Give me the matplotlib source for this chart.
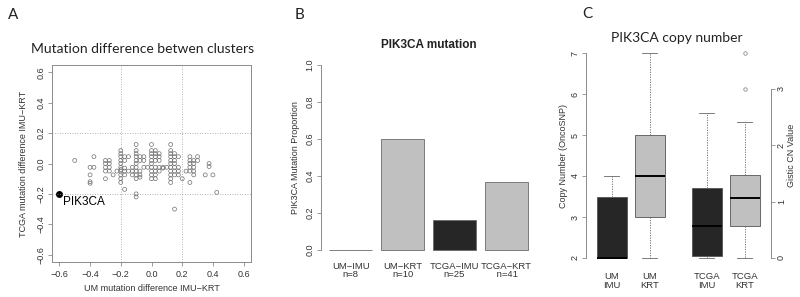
import matplotlib
matplotlib.use("Agg")
import matplotlib.pyplot as plt

plt.rcParams['font.family'] = ['Liberation Sans', 'DejaVu Sans']

# A: mutation difference per gene
um_diff = [-0.5,
           -0.4, -0.4, -0.4, -0.4,
           -0.375, -0.375,
           -0.3, -0.3, -0.3, -0.3, -0.3,
           -0.275, -0.275, -0.275, -0.275,
           -0.25, -0.225,
           -0.2, -0.2, -0.2, -0.2, -0.2, -0.2, -0.2, -0.2, -0.2, -0.2, -0.2,
           -0.175, -0.175, -0.175, -0.175, -0.175, -0.175,
           -0.15, -0.15,
           -0.125, -0.125, -0.125,
           -0.1, -0.1, -0.1, -0.1, -0.1, -0.1, -0.1, -0.1, -0.1, -0.1, -0.1, -0.1,
           -0.075, -0.075, -0.075, -0.075, -0.075,
           -0.05, -0.05, -0.05, -0.025,
           0.0, 0.0, 0.0, 0.0, 0.0, 0.0, 0.0, 0.0, 0.0, 0.0,
           0.025, 0.025, 0.025, 0.025, 0.025, 0.025, 0.025, 0.025,
           0.05, 0.05, 0.05, 0.05, 0.05,
           0.075, 0.075, 0.1,
           0.125, 0.125, 0.125, 0.125, 0.125, 0.125, 0.125, 0.125, 0.125, 0.125, 0.125,
           0.15, 0.15, 0.15, 0.15, 0.15, 0.15, 0.15, 0.15,
           0.175, 0.175, 0.175, 0.175,
           0.2, 0.225,
           0.25, 0.25, 0.25, 0.25, 0.25, 0.25,
           0.275, 0.275, 0.275, 0.275, 0.275,
           0.3, 0.3, 0.35, 0.375, 0.375, 0.4, 0.425]
tcga_diff = [0.02,
             -0.025, -0.075, -0.12, -0.13,
             0.045, -0.025,
             0.02, 0.0, -0.025, -0.05, -0.1,
             0.02, 0.0, -0.025, -0.05,
             -0.075, -0.05,
             0.085, 0.065, 0.045, 0.02, 0.0, -0.025, -0.04, -0.05, -0.075, -0.1, -0.125,
             0.045, 0.02, -0.03, -0.05, -0.075, -0.17,
             0.045, -0.05,
             -0.05, -0.025, -0.075,
             0.125, 0.085, 0.065, 0.045, 0.02, 0.0, -0.025, -0.05, -0.075, -0.1, -0.2, -0.22,
             0.045, 0.02, -0.05, -0.075, -0.09,
             0.045, 0.02, -0.025, -0.025,
             0.125, 0.085, 0.065, 0.045, 0.02, 0.0, -0.025, -0.05, -0.075, -0.1,
             0.085, 0.065, 0.045, 0.02, -0.025, -0.05, -0.075, -0.1,
             0.065, 0.045, 0.02, -0.025, -0.05,
             -0.025, -0.03, -0.025,
             0.125, 0.085, 0.065, 0.045, 0.02, 0.0, -0.025, -0.05, -0.075, -0.1, -0.125,
             0.065, 0.045, 0.02, 0.0, -0.025, -0.05, -0.075, -0.3,
             0.045, -0.025, -0.05, -0.075,
             -0.1, -0.05,
             0.045, 0.02, 0.0, -0.025, -0.05, -0.125,
             0.02, 0.0, -0.025, -0.05, -0.075,
             0.045, 0.02, -0.075, 0.0, -0.02, -0.075, -0.19]
pik3ca_point = (-0.6, -0.2)
a_ticks = [-0.6, -0.4, -0.2, 0.0, 0.2, 0.4, 0.6]

# B: mutation proportion
b_groups = ["UM\u2212IMU\nn=8", "UM\u2212KRT\nn=10", "TCGA\u2212IMU\nn=25", "TCGA\u2212KRT\n n=41"]
b_values = [0.0, 0.6, 0.16, 0.366]
b_ticks = [0.0, 0.2, 0.4, 0.6, 0.8, 1.0]

# C: copy number boxes (UM in OncoSNP copy number, TCGA in Gistic value)
um_labels = ["UM\nIMU", "UM\nKRT"]
um_stats = [dict(whislo=2.0, q1=2.0, med=2.0, q3=3.5, whishi=4.0, fliers=[]),
            dict(whislo=2.0, q1=3.0, med=4.0, q3=5.0, whishi=7.0, fliers=[])]
tcga_labels = ["TCGA\nIMU", "TCGA\nKRT"]
tcga_stats = [dict(whislo=0.0, q1=0.035, med=0.56, q3=1.24, whishi=2.57, fliers=[]),
              dict(whislo=0.0, q1=0.56, med=1.07, q3=1.47, whishi=2.4, fliers=[3.0, 3.63])]
cn_ticks = [2, 3, 4, 5, 6, 7]
gistic_ticks = [0, 1, 2, 3]

grey = "#8a8a8a"
txt = "#333333"
dark = "#262626"
light = "#c0c0c0"

fig = plt.figure(figsize=(8, 2.97), dpi=100)


def lab(v):
    return f"{v:.1f}".replace("-", "\u2212")


def rstyle(ax):
    ax.tick_params(colors=grey, labelcolor=txt, labelsize=6.5, length=3, width=0.6,
                   direction='out', pad=1.5)
    for s in ax.spines.values():
        s.set_color(grey)
        s.set_linewidth(0.7)


# ---- A
axA = fig.add_axes([52/800, 35/297, 199/800, 197/297])
axA.scatter(um_diff, tcga_diff, s=8, facecolors='none', edgecolors='#707070', linewidths=0.5)
axA.scatter([pik3ca_point[0]], [pik3ca_point[1]], s=16, color='black')
axA.text(pik3ca_point[0] + 0.025, pik3ca_point[1] - 0.055, "PIK3CA", fontsize=8.5, color='black', va='center')
for v in (-0.2, 0.2):
    axA.axvline(v, color='#999999', lw=0.6, ls=(0, (1, 2)))
    axA.axhline(v, color='#999999', lw=0.6, ls=(0, (1, 2)))
axA.set_xlim(-0.648, 0.648)
axA.set_ylim(-0.648, 0.648)
axA.set_xticks(a_ticks)
axA.set_xticklabels([lab(v) for v in a_ticks])
axA.set_yticks(a_ticks)
axA.set_yticklabels([lab(v) for v in a_ticks], rotation=90, va='center')
rstyle(axA)
axA.tick_params(axis='x', pad=2.5)
axA.set_xlabel("UM mutation difference IMU\u2212KRT", fontsize=6.5, color=txt, labelpad=4)
axA.set_ylabel("TCGA mutation difference IMU\u2212KRT", fontsize=6.5, color=txt, labelpad=6)
fig.text(143/800, 1 - 49/297, "Mutation difference betwen clusters", family=['Lato', 'DejaVu Sans'],
         fontsize=10, color='#222222', ha='center', va='center')
fig.text(13/800, 1 - 15/297, "A", family=['Lato', 'DejaVu Sans'], fontsize=11, color='#222222',
         ha='center', va='center')

# ---- B
axB = fig.add_axes([321/800, 39.6/297, 215/800, 199.8/297])
b_pos = [0.7 + 1.2 * i for i in range(len(b_values))]
b_colors = [light, light, dark, light]
axB.bar(b_pos, b_values, width=1.0, color=b_colors, edgecolor='#6a6a6a', linewidth=0.6)
axB.set_xlim(0.016, 4.984)
axB.set_ylim(-0.04, 1.04)
axB.set_yticks(b_ticks)
axB.set_yticklabels([lab(v) for v in b_ticks], rotation=90, va='center')
axB.set_xticks(b_pos)
axB.set_xticklabels(b_groups, linespacing=0.95)
rstyle(axB)
axB.tick_params(axis='x', length=0, pad=3, labelsize=6.8)
for s in ('top', 'right', 'bottom'):
    axB.spines[s].set_visible(False)
axB.spines['left'].set_bounds(0, 1)
axB.set_ylabel("PIK3CA Mutation Proportion", fontsize=6.5, color=txt, labelpad=4.5)
axB.set_title("PIK3CA mutation", fontsize=8.5, fontweight='bold', color='#222222', pad=7)
fig.text(300/800, 1 - 15/297, "B", family=['Lato', 'DejaVu Sans'], fontsize=11, color='#222222',
         ha='center', va='center')

# ---- C
k = 56.5 / 41.0
cn_lim = (1.8, 7.2)
axC = fig.add_axes([586/800, 30.8/297, 184.7/800, 221.4/297])
axC2 = axC.twinx()
box_kw = dict(widths=0.8, patch_artist=True, manage_ticks=False, capwidths=0.4,
              boxprops=dict(edgecolor='#555555', linewidth=0.6),
              whiskerprops=dict(color='#666666', linewidth=0.6, linestyle=(0, (1.5, 1.5))),
              capprops=dict(color='#666666', linewidth=0.6),
              medianprops=dict(color='black', linewidth=1.4),
              flierprops=dict(marker='o', markersize=2.5, markerfacecolor='none',
                              markeredgecolor='#777777', markeredgewidth=0.5))
bA = axC.bxp(um_stats, positions=[1, 2], **box_kw)
bB = axC2.bxp(tcga_stats, positions=[3.5, 4.5], **box_kw)
for patch, c in zip(bA['boxes'] + bB['boxes'], [dark, light, dark, light]):
    patch.set_facecolor(c)
axC.set_xlim(0.32, 5.18)
axC.set_ylim(*cn_lim)
axC2.set_ylim((cn_lim[0] - 2) / k, (cn_lim[1] - 2) / k)
axC.set_xticks([1, 2, 3.5, 4.5])
axC.set_xticklabels(um_labels + tcga_labels, linespacing=1.0)
axC.set_yticks(cn_ticks)
axC.set_yticklabels([str(v) for v in cn_ticks], rotation=90, va='center')
axC2.set_yticks(gistic_ticks)
axC2.set_yticklabels([str(v) for v in gistic_ticks], rotation=90, va='center')
rstyle(axC)
rstyle(axC2)
axC.tick_params(axis='x', length=0, pad=4, labelsize=6.8)
for a in (axC, axC2):
    for s in ('top', 'bottom'):
        a.spines[s].set_visible(False)
axC.spines['right'].set_visible(False)
axC2.spines['left'].set_visible(False)
axC.spines['left'].set_bounds(2, 7)
axC2.spines['right'].set_bounds(0, 3)
axC.set_ylabel("Copy Number (OncoSNP)", fontsize=6.5, color=txt, labelpad=2)
axC2.set_ylabel("Gistic CN Value", fontsize=6.5, color=txt, labelpad=0.5)
fig.text(677/800, 1 - 38/297, "PIK3CA copy number", family=['Lato', 'DejaVu Sans'],
         fontsize=10, color='#222222', ha='center', va='center')
fig.text(587/800, 1 - 14/297, "C", family=['Lato', 'DejaVu Sans'], fontsize=11, color='#222222',
         ha='center', va='center')

fig.savefig("out.png", dpi=100)
